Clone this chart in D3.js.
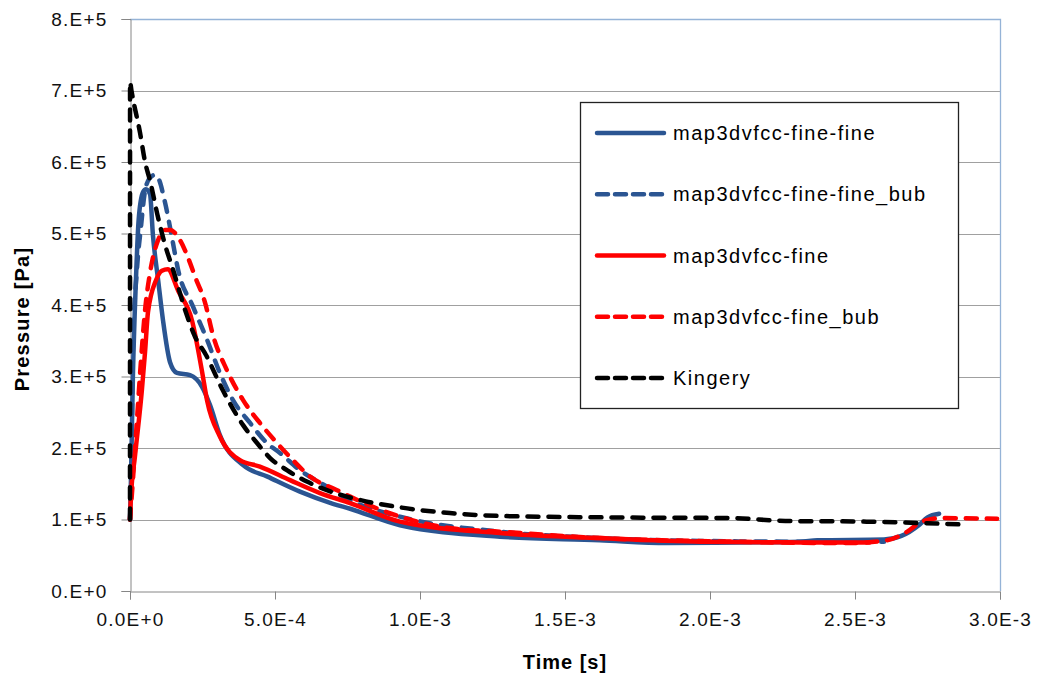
<!DOCTYPE html>
<html>
<head>
<meta charset="utf-8">
<script src="https://cdn.jsdelivr.net/npm/d3@7/dist/d3.min.js"></script>
<style>
  html, body { margin: 0; padding: 0; background: #fff; }
  svg { display: block; }
  .tick-label { font-family: "Liberation Sans", Arial, sans-serif; font-size: 19px; fill: #111; }
  .axis-title { font-family: "Liberation Sans", Arial, sans-serif; font-size: 20px; font-weight: bold; fill: #000; }
  .legend-label { font-family: "Liberation Sans", Arial, sans-serif; font-size: 20px; fill: #000; }
</style>
</head>
<body>
<svg id="chart" width="1037" height="677"></svg>
<script>
// Pressure histories: [time (s), pressure (Pa)]
const fineFine = [
  [0, 1.0e5], [0.003e-3, 1.5e5], [0.010e-3, 3.0e5], [0.020e-3, 4.3e5], [0.030e-3, 5.2e5],
  [0.045e-3, 5.58e5], [0.055e-3, 5.62e5], [0.069e-3, 5.55e5], [0.079e-3, 4.98e5],
  [0.097e-3, 4.35e5], [0.114e-3, 3.78e5], [0.138e-3, 3.2e5], [0.162e-3, 3.05e5],
  [0.207e-3, 3.02e5], [0.248e-3, 2.86e5], [0.276e-3, 2.6e5], [0.31e-3, 2.18e5],
  [0.39e-3, 1.76e5], [0.474e-3, 1.6e5], [0.586e-3, 1.39e5], [0.70e-3, 1.22e5],
  [0.759e-3, 1.15e5], [0.931e-3, 0.92e5], [1.276e-3, 0.76e5], [1.62e-3, 0.71e5],
  [1.85e-3, 0.67e5], [2.31e-3, 0.69e5], [2.37e-3, 0.71e5], [2.6e-3, 0.72e5],
  [2.66e-3, 0.77e5], [2.72e-3, 0.92e5], [2.75e-3, 1.03e5], [2.79e-3, 1.08e5]
];
const fineFineBub = [
  [0, 1.0e5], [0.004e-3, 1.6e5], [0.007e-3, 2.5e5], [0.010e-3, 3.4e5], [0.024e-3, 4.5e5],
  [0.038e-3, 5.1e5], [0.052e-3, 5.6e5], [0.069e-3, 5.78e5], [0.086e-3, 5.82e5],
  [0.097e-3, 5.78e5], [0.121e-3, 5.43e5], [0.148e-3, 4.87e5], [0.166e-3, 4.49e5],
  [0.217e-3, 3.98e5], [0.266e-3, 3.51e5], [0.31e-3, 3.05e5], [0.355e-3, 2.67e5],
  [0.414e-3, 2.35e5], [0.472e-3, 2.07e5], [0.517e-3, 1.93e5], [0.586e-3, 1.69e5],
  [0.679e-3, 1.46e5], [0.748e-3, 1.29e5], [0.931e-3, 1.04e5], [1.276e-3, 0.83e5],
  [1.62e-3, 0.74e5], [1.966e-3, 0.70e5], [2.31e-3, 0.69e5], [2.6e-3, 0.69e5]
];
const fine = [
  [0, 1.0e5], [0.003e-3, 1.3e5], [0.017e-3, 1.88e5], [0.041e-3, 2.81e5], [0.052e-3, 3.35e5],
  [0.062e-3, 3.9e5], [0.09e-3, 4.35e5], [0.11e-3, 4.48e5], [0.13e-3, 4.5e5],
  [0.166e-3, 4.2e5], [0.214e-3, 3.78e5], [0.248e-3, 3.08e5], [0.266e-3, 2.66e5],
  [0.31e-3, 2.16e5], [0.379e-3, 1.83e5], [0.448e-3, 1.74e5], [0.552e-3, 1.55e5],
  [0.655e-3, 1.37e5], [0.759e-3, 1.23e5], [0.931e-3, 0.97e5], [1.276e-3, 0.81e5],
  [1.62e-3, 0.74e5], [1.97e-3, 0.69e5], [2.31e-3, 0.68e5], [2.55e-3, 0.68e5]
];
const fineBub = [
  [0, 1.0e5], [0.010e-3, 1.55e5], [0.024e-3, 2.39e5], [0.038e-3, 3.23e5], [0.052e-3, 3.93e5],
  [0.069e-3, 4.45e5], [0.097e-3, 4.91e5], [0.121e-3, 5.05e5], [0.138e-3, 5.05e5],
  [0.172e-3, 4.91e5], [0.207e-3, 4.59e5], [0.224e-3, 4.4e5], [0.259e-3, 4.03e5],
  [0.286e-3, 3.58e5], [0.334e-3, 3.09e5], [0.39e-3, 2.67e5], [0.448e-3, 2.35e5],
  [0.507e-3, 2.07e5], [0.562e-3, 1.83e5], [0.621e-3, 1.6e5], [0.714e-3, 1.41e5],
  [0.759e-3, 1.32e5], [0.931e-3, 1.04e5], [1.103e-3, 0.88e5], [1.276e-3, 0.83e5],
  [1.62e-3, 0.74e5], [2.08e-3, 0.69e5], [2.47e-3, 0.67e5], [2.61e-3, 0.71e5],
  [2.68e-3, 0.83e5], [2.73e-3, 0.97e5], [2.8e-3, 1.02e5], [2.99e-3, 1.01e5]
];
const kingery = [
  [0, 1.0e5], [0.0002e-3, 7.12e5], [0.005e-3, 7.0e5], [0.035e-3, 6.4e5], [0.052e-3, 6.0e5],
  [0.069e-3, 5.74e5], [0.097e-3, 5.22e5], [0.121e-3, 4.84e5], [0.148e-3, 4.5e5],
  [0.19e-3, 3.93e5], [0.224e-3, 3.56e5], [0.262e-3, 3.3e5], [0.321e-3, 2.8e5],
  [0.39e-3, 2.32e5], [0.438e-3, 2.07e5], [0.483e-3, 1.86e5], [0.541e-3, 1.69e5],
  [0.61e-3, 1.53e5], [0.679e-3, 1.41e5], [0.748e-3, 1.32e5], [0.931e-3, 1.17e5],
  [1.103e-3, 1.09e5], [1.276e-3, 1.05e5], [1.62e-3, 1.03e5], [2.07e-3, 1.02e5],
  [2.26e-3, 0.98e5], [2.54e-3, 0.97e5], [2.87e-3, 0.93e5]
];

const seriesNames = ["map3dvfcc-fine-fine", "map3dvfcc-fine-fine_bub", "map3dvfcc-fine", "map3dvfcc-fine_bub", "Kingery"];
const seriesData = [fineFine, fineFineBub, fine, fineBub, kingery];
const seriesColors = ["#2b5592", "#2b5592", "#ff0000", "#ff0000", "#000000"];
const seriesDashed = [false, true, false, true, true];

const yTicks = [0, 1e5, 2e5, 3e5, 4e5, 5e5, 6e5, 7e5, 8e5];
const yTickLabels = ["0.E+0", "1.E+5", "2.E+5", "3.E+5", "4.E+5", "5.E+5", "6.E+5", "7.E+5", "8.E+5"];
const xTicks = [0, 5e-4, 1e-3, 1.5e-3, 2e-3, 2.5e-3, 3e-3];
const xTickLabels = ["0.0E+0", "5.0E-4", "1.0E-3", "1.5E-3", "2.0E-3", "2.5E-3", "3.0E-3"];

const svg = d3.select("#chart");
const plot = { left: 130, right: 1000, top: 19, bottom: 591 };

const x = d3.scaleLinear().domain([0, 3e-3]).range([plot.left, plot.right]);
const y = d3.scaleLinear().domain([0, 8e5]).range([plot.bottom, plot.top]);

// horizontal gridlines
svg.append("g")
  .selectAll("line")
  .data(yTicks.filter(v => v > 0 && v < 8e5))
  .join("line")
  .attr("x1", plot.left).attr("x2", plot.right)
  .attr("y1", d => Math.round(y(d)) + 0.5).attr("y2", d => Math.round(y(d)) + 0.5)
  .attr("stroke", "#a0a0a0").attr("stroke-width", 1.2);

// plot area frame (top and right)
svg.append("path")
  .attr("d", `M${plot.left},${plot.top + 0.5}H${plot.right + 0.5}V${plot.bottom}`)
  .attr("fill", "none").attr("stroke", "#95b3d7").attr("stroke-width", 1.3);

// y axis
const yAxis = d3.axisLeft(y).tickValues(yTicks).tickSize(9).tickPadding(14)
  .tickFormat((d, i) => yTickLabels[i]);
const gy = svg.append("g").attr("transform", `translate(${plot.left + 0.5},0)`).call(yAxis);
gy.select(".domain").attr("stroke", "#868686");
gy.selectAll(".tick line").attr("stroke", "#868686");
gy.selectAll(".tick text").attr("class", "tick-label").attr("font-family", null).attr("font-size", null)
  .attr("fill", null).style("letter-spacing", "1.2px");

// x axis
const xAxis = d3.axisBottom(x).tickValues(xTicks).tickSize(8).tickPadding(13)
  .tickFormat((d, i) => xTickLabels[i]);
const gx = svg.append("g").attr("transform", `translate(0,${plot.bottom + 0.5})`).call(xAxis);
gx.select(".domain").attr("stroke", "#868686");
gx.selectAll(".tick line").attr("stroke", "#868686");
gx.selectAll(".tick text").attr("class", "tick-label").attr("font-family", null).attr("font-size", null)
  .attr("fill", null).style("letter-spacing", "1.2px");

// axis titles
svg.append("text").attr("class", "axis-title")
  .attr("x", (plot.left + plot.right) / 2).attr("y", 669)
  .attr("text-anchor", "middle").style("letter-spacing", "1px").text("Time [s]");
svg.append("text").attr("class", "axis-title")
  .attr("transform", `translate(29,${(plot.top + plot.bottom) / 2 + 14}) rotate(-90)`)
  .attr("text-anchor", "middle").style("letter-spacing", "1.2px").text("Pressure [Pa]");

// series
svg.append("clipPath").attr("id", "plot-clip").append("rect")
  .attr("x", plot.left - 3).attr("y", plot.top - 3)
  .attr("width", plot.right - plot.left + 6).attr("height", plot.bottom - plot.top + 6);

const line = d3.line().x(d => x(d[0])).y(d => y(d[1])).curve(d3.curveMonotoneX);
const lines = svg.append("g").attr("clip-path", "url(#plot-clip)");
seriesData.forEach((data, i) => {
  lines.append("path")
    .datum(data)
    .attr("d", line)
    .attr("fill", "none")
    .attr("stroke", seriesColors[i])
    .attr("stroke-width", 4.5)
    .attr("stroke-linecap", "round")
    .attr("stroke-linejoin", "round")
    .attr("stroke-dasharray", seriesDashed[i] ? "11,10" : null);
});

// legend
const legend = svg.append("g");
legend.append("rect")
  .attr("x", 580.5).attr("y", 102.5).attr("width", 378).attr("height", 306)
  .attr("fill", "#fff").attr("stroke", "#222").attr("stroke-width", 1.3);
const legendRowY = d3.scalePoint().domain(seriesNames).range([133, 378]);
seriesNames.forEach((name, i) => {
  const cy = legendRowY(name);
  legend.append("line")
    .attr("x1", 597).attr("x2", 664).attr("y1", cy).attr("y2", cy)
    .attr("stroke", seriesColors[i]).attr("stroke-width", 4.5)
    .attr("stroke-linecap", "round")
    .attr("stroke-dasharray", seriesDashed[i] ? "11,7" : null);
  legend.append("text").attr("class", "legend-label")
    .attr("x", 673).attr("y", cy).attr("dy", "0.35em")
    .style("letter-spacing", "1.5px")
    .text(name);
});
</script>
</body>
</html>
